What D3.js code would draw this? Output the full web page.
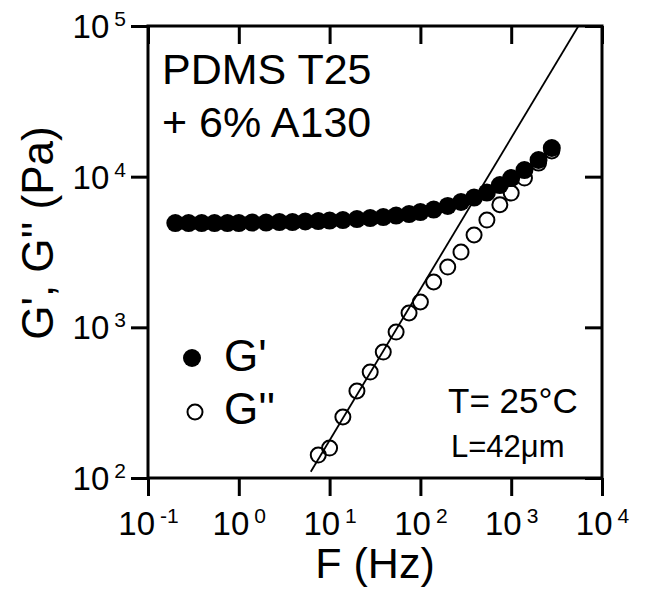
<!DOCTYPE html>
<html>
<head>
<meta charset="utf-8">
<script src="https://cdn.jsdelivr.net/npm/d3@7"></script>
<style>
  html, body { margin: 0; padding: 0; background: #fff; }
  svg { display: block; font-family: "Liberation Sans", Arial, Helvetica, sans-serif; }
</style>
</head>
<body>
<svg id="chart" width="645" height="589"></svg>
<script>
// Oscillatory frequency sweep, PDMS T25 + 6% A130
const freq = [0.2, 0.28, 0.39, 0.54, 0.75, 1.0, 1.4, 2.0, 2.8, 3.9, 5.4, 7.5, 10, 14, 20,
              28, 39, 54, 75, 100, 140, 200, 280, 390, 540, 750, 1000, 1400, 2000, 2800];
const storageModulus = [4920, 4920, 4920, 4920, 4920, 4920, 4960, 4960, 5000, 5000, 5040, 5070, 5110, 5150, 5230,
                        5310, 5390, 5520, 5650, 5820, 6050, 6390, 6790, 7270, 7840, 8790, 9790, 11060, 12900, 15500];
const lossFreq = [7.5, 10, 14, 20, 28, 39, 54, 75, 100, 140, 200, 280, 390, 540, 750, 1000, 1400, 2000, 2800];
const lossModulus = [142, 158, 254, 378, 505, 685, 930, 1245, 1473, 2000, 2512, 3160, 4100, 5150, 6510, 7780, 9790, 12300, 14800];
// slope-one power law drawn through G''
const fitFreq = [6.2, 5500];
const fitModulus = [110, 100000];

const xTickExp = [-1, 0, 1, 2, 3, 4];
const yTickExp = [2, 3, 4, 5];

const svg = d3.select("#chart");
svg.append("rect").attr("width", 645).attr("height", 589).attr("fill", "#fff");

const x = d3.scaleLog().domain([0.1, 1e4]).range([148, 602]);
const y = d3.scaleLog().domain([100, 1e5]).range([478, 26]);

const x0 = x.range()[0], x1 = x.range()[1];
const yTop = y.range()[1], yBot = y.range()[0];

svg.append("defs").append("clipPath").attr("id", "plotClip")
  .append("rect").attr("x", x0).attr("y", yTop).attr("width", x1 - x0).attr("height", yBot - yTop);

// ticks on all four sides
const xTicks = xTickExp.map(e => Math.pow(10, e));
const yTicks = yTickExp.map(e => Math.pow(10, e));

function styleAxis(g) {
  g.select(".domain").remove();
  g.selectAll(".tick line").attr("stroke", "#000").attr("stroke-width", 3);
  g.selectAll(".tick text").remove();
}

const gBottom = svg.append("g").attr("transform", `translate(0,${yBot})`)
  .call(d3.axisBottom(x).tickValues(xTicks).tickSize(18).tickFormat(() => "")).call(styleAxis);
svg.append("g").attr("transform", `translate(0,${yTop})`)
  .call(d3.axisBottom(x).tickValues(xTicks).tickSize(18).tickFormat(() => "")).call(styleAxis);
const gLeft = svg.append("g").attr("transform", `translate(${x0},0)`)
  .call(d3.axisLeft(y).tickValues(yTicks).tickSize(17).tickFormat(() => "")).call(styleAxis);
svg.append("g").attr("transform", `translate(${x1},0)`)
  .call(d3.axisLeft(y).tickValues(yTicks).tickSize(17).tickFormat(() => "")).call(styleAxis);

// power-of-ten tick labels
function powerLabel(sel, anchor, tx, ty) {
  const t = sel.append("text")
    .attr("x", tx).attr("y", ty)
    .attr("text-anchor", anchor)
    .attr("fill", "#000");
  t.append("tspan").attr("font-size", 33).text("10");
  t.append("tspan").attr("font-size", 21).attr("dx", 5).attr("dy", -12)
    .text(d => String(Math.round(Math.log10(d))));
}
gBottom.selectAll(".tick").call(powerLabel, "middle", 0, 57);
gLeft.selectAll(".tick").call(powerLabel, "end", -22, 11.5);

// frame
svg.append("rect")
  .attr("x", x0).attr("y", yTop).attr("width", x1 - x0).attr("height", yBot - yTop)
  .attr("fill", "none").attr("stroke", "#000").attr("stroke-width", 3);

const plot = svg.append("g").attr("clip-path", "url(#plotClip)");

// power-law line
plot.append("path")
  .datum(fitFreq.map((f, i) => [f, fitModulus[i]]))
  .attr("d", d3.line().x(d => x(d[0])).y(d => y(d[1])))
  .attr("fill", "none").attr("stroke", "#000").attr("stroke-width", 1.8);

// G'' open circles
svg.append("g").selectAll("circle")
  .data(lossFreq.map((f, i) => [f, lossModulus[i]]))
  .join("circle")
  .attr("cx", d => x(d[0])).attr("cy", d => y(d[1])).attr("r", 7.5)
  .attr("fill", "none").attr("stroke", "#000").attr("stroke-width", 2);

// G' filled circles
svg.append("g").selectAll("circle")
  .data(freq.map((f, i) => [f, storageModulus[i]]))
  .join("circle")
  .attr("cx", d => x(d[0])).attr("cy", d => y(d[1])).attr("r", 9)
  .attr("fill", "#000");

// legend
svg.append("circle").attr("cx", 192).attr("cy", 358).attr("r", 9).attr("fill", "#000");
svg.append("circle").attr("cx", 195).attr("cy", 412).attr("r", 7.5)
  .attr("fill", "none").attr("stroke", "#000").attr("stroke-width", 2);
svg.append("text").attr("x", 224).attr("y", 371).attr("font-size", 44).text("G'");
svg.append("text").attr("x", 224).attr("y", 424).attr("font-size", 44).text("G''");

// sample annotation
svg.append("text").attr("x", 162).attr("y", 84).attr("font-size", 43).text("PDMS T25");
svg.append("text").attr("x", 162).attr("y", 137).attr("font-size", 43).text("+ 6% A130");
svg.append("text").attr("x", 448).attr("y", 413).attr("font-size", 35).text("T= 25°C");
svg.append("text").attr("x", 451).attr("y", 457).attr("font-size", 31).text("L=42μm");

// axis titles
svg.append("text").attr("x", (x0 + x1) / 2).attr("y", 578)
  .attr("text-anchor", "middle").attr("font-size", 43).text("F (Hz)");
svg.append("text").attr("transform", "translate(53,233) rotate(-90)")
  .attr("text-anchor", "middle").attr("font-size", 44).text("G', G'' (Pa)");
</script>
</body>
</html>
